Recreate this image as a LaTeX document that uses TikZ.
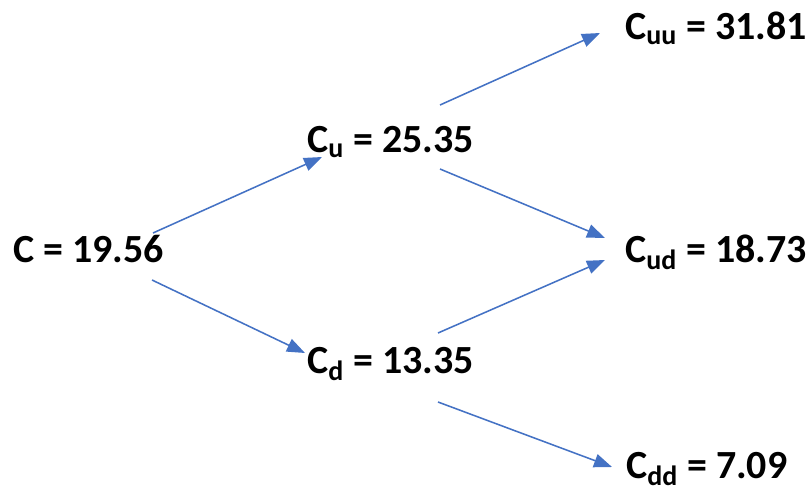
\documentclass[tikz,border=0pt]{standalone}
\usepackage{fontspec}
\setmainfont{Carlito}
\usepackage{tikz}
\usetikzlibrary{arrows.meta}
\definecolor{treeblue}{RGB}{68,114,196}

\begin{document}
\begin{tikzpicture}[
        x=0.025cm, y=-0.025cm,
        val/.style={anchor=base west, inner sep=0pt, font=\fontsize{28.4}{34}\selectfont\bfseries},
        arr/.style={-{Triangle[length=0.45cm, width=0.34cm]}, line width=1.1pt, treeblue},
    ]
        \useasboundingbox (0,0) rectangle (807,493);

        % Valeurs de l'arbre
        \node[val] (c) at (13,262) {C = 19.56};
        \node[val] (cu) at (307,152) {C\textsubscript{u} = 25.35};
        \node[val] (cd) at (307,373) {C\textsubscript{d} = 13.35};
        \node[val] (cuu) at (625,39) {C\textsubscript{uu} = 31.81};
        \node[val] (cud) at (625,262) {C\textsubscript{ud} = 18.73};
        \node[val] (cdd) at (626,478) {C\textsubscript{dd} = 7.09};

        % Branches
        \draw[arr] ([shift={(140,-29)}]c.base west) -- ([shift={(15,5)}]cu.base west);
        \draw[arr] ([shift={(139,18)}]c.base west) -- ([shift={(-2,-20)}]cd.base west);
        \draw[arr] ([shift={(133,-47)}]cu.base west) -- ([shift={(-25,-6)}]cuu.base west);
        \draw[arr] ([shift={(133,17)}]cu.base west) -- ([shift={(-20,-24)}]cud.base west);
        \draw[arr] ([shift={(131,-40)}]cd.base west) -- ([shift={(-20,-2)}]cud.base west);
        \draw[arr] ([shift={(131,29)}]cd.base west) -- ([shift={(-14,-11)}]cdd.base west);
    \end{tikzpicture}
\end{document}
